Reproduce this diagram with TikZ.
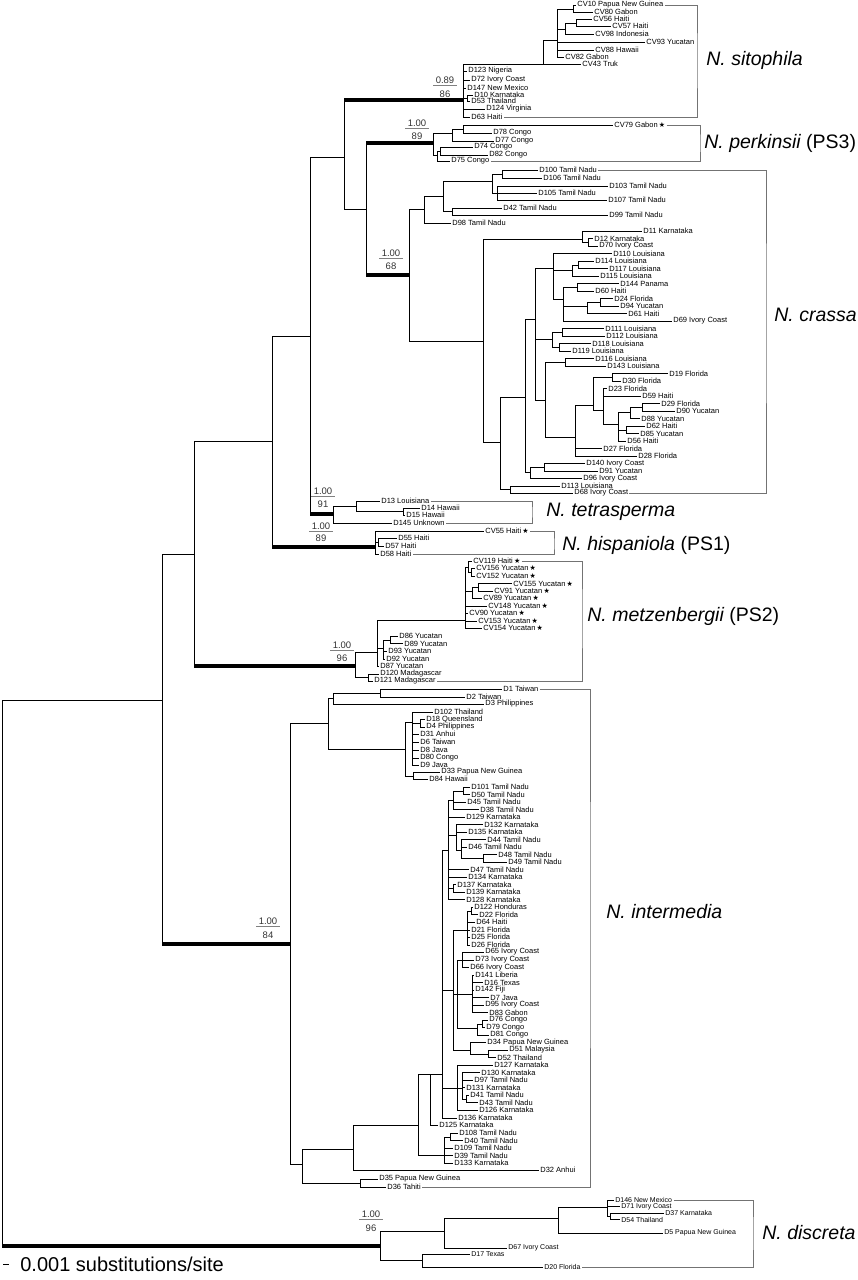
\documentclass[tikz,border=0pt]{standalone}
\usepackage{fontspec}
\setmainfont{Liberation Sans}
\newfontfamily\starfont{DejaVu Sans}
\usetikzlibrary{positioning}
\newcommand{\cvstar}{\,{\starfont\fontsize{7}{7}\selectfont ★}}
\tikzset{
  leaf/.style={anchor=west,inner xsep=1pt,inner ysep=0pt,font=\fontsize{7.5}{8}\selectfont},
  dleaf/.style={leaf,font=\fontsize{7}{8}\selectfont},
  clade/.style={draw=black!55,line width=0.6pt},
  taxon/.style={anchor=west,inner sep=0pt,font=\fontsize{19.5}{22}\selectfont},
  supp/.style={inner sep=0pt,font=\fontsize{9.5}{11}\selectfont,text=black!80},
  sbar/.style={draw=black!50,line width=0.5pt},
  bold/.style={line width=3.2pt}
}
\begin{document}
\begin{tikzpicture}[x=1pt,y=-1pt,line width=0.7pt]
\useasboundingbox (0,0) rectangle (858,1280);

% backbone
\coordinate (root) at (2,1246);
\coordinate (n1) at (162,700);
\coordinate (n2) at (194,554);
\coordinate (n3) at (272,441);
\coordinate (n4) at (310,336);
\coordinate (n5) at (344,157);
\coordinate (n6) at (366,209);
\coordinate (sit0) at (463,100);
\coordinate (per0) at (433,143);
\coordinate (cra0) at (409,275);
\coordinate (tet0) at (333,514);
\coordinate (his0) at (375,547);
\coordinate (met0) at (355,666);
\coordinate (int0) at (290,944);
\coordinate (dis0) at (380,1246);
\draw (root) |- (n1) (root) |- (dis0);
\draw (n1) |- (n2) (n1) |- (int0);
\draw (n2) |- (n3) (n2) |- (met0);
\draw (n3) |- (n4) (n3) |- (his0);
\draw (n4) |- (n5) (n4) |- (tet0);
\draw (n5) |- (sit0) (n5) |- (n6);
\draw (n6) |- (per0) (n6) |- (cra0);
\draw[bold] (n5 |- sit0) -- (sit0);
\draw[bold] (n6 |- per0) -- (per0);
\draw[bold] (n6 |- cra0) -- (cra0);
\draw[bold] (n4 |- tet0) -- (tet0);
\draw[bold] (n3 |- his0) -- (his0);
\draw[bold] (n2 |- met0) -- (met0);
\draw[bold] (n1 |- int0) -- (int0);
\draw[bold] (root) -- (dis0);

% support values
\node[supp] (sitPP) at (445,80) {0.89};
\node[supp] (sitBS) at (445,94) {86};
\draw[sbar] ([shift={(-2pt,-2pt)}]sitPP.south west) -- ([shift={(2pt,-2pt)}]sitPP.south east);
\node[supp] (perPP) at (417,123) {1.00};
\node[supp] (perBS) at (417,136) {89};
\draw[sbar] ([shift={(-2pt,-2pt)}]perPP.south west) -- ([shift={(2pt,-2pt)}]perPP.south east);
\node[supp] (craPP) at (391,253) {1.00};
\node[supp] (craBS) at (391,266) {68};
\draw[sbar] ([shift={(-2pt,-2pt)}]craPP.south west) -- ([shift={(2pt,-2pt)}]craPP.south east);
\node[supp] (tetPP) at (323,491) {1.00};
\node[supp] (tetBS) at (323,504) {91};
\draw[sbar] ([shift={(-2pt,-2pt)}]tetPP.south west) -- ([shift={(2pt,-2pt)}]tetPP.south east);
\node[supp] (hisPP) at (321,526) {1.00};
\node[supp] (hisBS) at (321,538) {89};
\draw[sbar] ([shift={(-2pt,-2pt)}]hisPP.south west) -- ([shift={(2pt,-2pt)}]hisPP.south east);
\node[supp] (metPP) at (342,645) {1.00};
\node[supp] (metBS) at (342,658) {96};
\draw[sbar] ([shift={(-2pt,-2pt)}]metPP.south west) -- ([shift={(2pt,-2pt)}]metPP.south east);
\node[supp] (intPP) at (268,921) {1.00};
\node[supp] (intBS) at (268,935) {84};
\draw[sbar] ([shift={(-2pt,-2pt)}]intPP.south west) -- ([shift={(2pt,-2pt)}]intPP.south east);
\node[supp] (disPP) at (371,1214) {1.00};
\node[supp] (disBS) at (371,1228) {96};
\draw[sbar] ([shift={(-2pt,-2pt)}]disPP.south west) -- ([shift={(2pt,-2pt)}]disPP.south east);

% N. sitophila
\coordinate (sitA) at (543,64);
\coordinate (sitB) at (557,40);
\coordinate (sitC) at (573,9);
\coordinate (sitD) at (565,29);
\coordinate (sitE) at (576,23);
\coordinate (sitF) at (467,98);
\node[leaf] (CV10) at (576,5) {CV10 Papua New Guinea};
\node[leaf] (CV80) at (593,12) {CV80 Gabon};
\node[leaf] (CV56) at (592,19) {CV56 Haiti};
\node[leaf] (CV57) at (611,26) {CV57 Haiti};
\node[leaf] (CV98) at (594,34) {CV98 Indonesia};
\node[leaf] (CV93) at (645,42) {CV93 Yucatan};
\node[leaf] (CV88) at (594,50) {CV88 Hawaii};
\node[leaf] (CV82) at (564,57) {CV82 Gabon};
\node[leaf] (CV43) at (581,64) {CV43 Truk};
\node[leaf] (D123) at (467,71) {D123 Nigeria};
\node[leaf] (D72) at (470,80) {D72 Ivory Coast};
\node[leaf] (D147) at (466,88) {D147 New Mexico};
\node[leaf] (D10) at (473,95) {D10 Karnataka};
\node[leaf] (D53) at (470,101) {D53 Thailand};
\node[leaf] (D124) at (485,109) {D124 Virginia};
\node[leaf] (D63) at (470,117) {D63 Haiti};
\draw (sit0) |- (sitA) (sit0) |- (D123) (sit0) |- (D72) (sit0) |- (D147) (sit0) |- (sitF) (sit0) |- (D124) (sit0) |- (D63);
\draw (sitA) |- (sitB) (sitA) |- (CV43);
\draw (sitB) |- (sitC) (sitB) |- (sitD) (sitB) |- (CV93) (sitB) |- (CV88) (sitB) |- (CV82);
\draw (sitC) |- (CV10) (sitC) |- (CV80);
\draw (sitD) |- (sitE) (sitD) |- (CV98);
\draw (sitE) |- (CV56) (sitE) |- (CV57);
\draw (sitF) |- (D10) (sitF) |- (D53);
\coordinate (sitBr) at (697,60);
\draw[clade] (CV10) -| (sitBr) |- (D63);
\node[taxon,right=9pt of sitBr] (sitN) {\itshape N. sitophila};

% N. perkinsii
\coordinate (perA) at (452,133);
\coordinate (perA2) at (463,129);
\coordinate (perB) at (437,155);
\coordinate (perB2) at (440,151);
\node[leaf] (CV79) at (613,125) {CV79 Gabon\cvstar};
\node[leaf] (D78) at (492,133) {D78 Congo};
\node[leaf] (D77) at (494,141) {D77 Congo};
\node[leaf] (D74) at (473,147) {D74 Congo};
\node[leaf] (D82) at (488,155) {D82 Congo};
\node[leaf] (D75) at (450,161) {D75 Congo};
\draw (per0) |- (perA) (per0) |- (perB);
\draw (perA) |- (perA2) (perA) |- (D77);
\draw (perA2) |- (CV79) (perA2) |- (D78);
\draw (perB) |- (perB2) (perB) |- (D75);
\draw (perB2) |- (D74) (perB2) |- (D82);
\coordinate (perBr) at (700,143);
\draw[clade] (CV79) -| (perBr) |- (D75);
\node[taxon,right=4pt of perBr] (perN) {{\itshape N. perkinsii} (PS3)};

% N. crassa
\coordinate (craT) at (424,209);
\coordinate (craT1) at (443,196);
\coordinate (craT2) at (492,181);
\coordinate (craT3) at (502,174);
\coordinate (craT4) at (497,193);
\coordinate (craT5) at (452,211);
\coordinate (craK) at (483,341);
\coordinate (craK2) at (582,239);
\coordinate (craK3) at (588,242);
\coordinate (craV) at (500,442);
\coordinate (craW) at (525,397);
\coordinate (craX) at (510,489);
\coordinate (craW1) at (535,319);
\coordinate (craY) at (530,472);
\coordinate (craZ) at (544,467);
\coordinate (craM) at (553,268);
\coordinate (craLa) at (572,270);
\coordinate (craLb) at (578,265);
\coordinate (craQ) at (563,299);
\coordinate (craPm) at (577,287);
\coordinate (craFl) at (587,306);
\coordinate (craFl2) at (600,302);
\coordinate (craU) at (552,339);
\coordinate (craU2) at (562,332);
\coordinate (craU3) at (559,347);
\coordinate (craS) at (545,400);
\coordinate (craS1) at (565,362);
\coordinate (craS2) at (575,437);
\coordinate (craS3) at (593,405);
\coordinate (craS4) at (612,377);
\coordinate (craS5) at (603,410);
\coordinate (craS6) at (618,424);
\coordinate (craS7) at (630,412);
\coordinate (craS8) at (626,430);
\coordinate (craS9) at (642,407);
\node[leaf] (D100) at (538,170) {D100 Tamil Nadu};
\node[leaf] (D106) at (542,178) {D106 Tamil Nadu};
\node[leaf] (D103) at (608,186) {D103 Tamil Nadu};
\node[leaf] (D105) at (537,193) {D105 Tamil Nadu};
\node[leaf] (D107) at (607,200) {D107 Tamil Nadu};
\node[leaf] (D42) at (502,208) {D42 Tamil Nadu};
\node[leaf] (D99) at (608,215) {D99 Tamil Nadu};
\node[leaf] (D98) at (451,223) {D98 Tamil Nadu};
\node[leaf] (D11) at (642,231) {D11 Karnataka};
\node[leaf] (D12) at (593,238.5) {D12 Karnataka};
\node[leaf] (D70) at (598,246) {D70 Ivory Coast};
\node[leaf] (D110) at (612,253.5) {D110 Louisiana};
\node[leaf] (D114) at (594,261) {D114 Louisiana};
\node[leaf] (D117) at (608,268.5) {D117 Louisiana};
\node[leaf] (D115) at (599,276) {D115 Louisiana};
\node[leaf] (D144) at (619,283.5) {D144 Panama};
\node[leaf] (D60) at (594,291) {D60 Haiti};
\node[leaf] (D24) at (613,298.5) {D24 Florida};
\node[leaf] (D94) at (619,306) {D94 Yucatan};
\node[leaf] (D61) at (627,313.5) {D61 Haiti};
\node[leaf] (D69) at (672,321) {D69 Ivory Coast};
\node[leaf] (D111) at (604,328.5) {D111 Louisiana};
\node[leaf] (D112) at (605,336) {D112 Louisiana};
\node[leaf] (D118) at (591,343.5) {D118 Louisiana};
\node[leaf] (D119) at (571,351) {D119 Louisiana};
\node[leaf] (D116) at (594,358.5) {D116 Louisiana};
\node[leaf] (D143) at (606,366) {D143 Louisiana};
\node[leaf] (D19) at (668,373.5) {D19 Florida};
\node[leaf] (D30) at (621,381) {D30 Florida};
\node[leaf] (D23) at (607,388.5) {D23 Florida};
\node[leaf] (D59) at (641,396) {D59 Haiti};
\node[leaf] (D29) at (660,403.5) {D29 Florida};
\node[leaf] (D90) at (675,411) {D90 Yucatan};
\node[leaf] (D88) at (640,418.5) {D88 Yucatan};
\node[leaf] (D62) at (645,426) {D62 Haiti};
\node[leaf] (D85) at (639,433.5) {D85 Yucatan};
\node[leaf] (D56) at (626,441) {D56 Haiti};
\node[leaf] (D27) at (602,448.5) {D27 Florida};
\node[leaf] (D28) at (637,456) {D28 Florida};
\node[leaf] (D140) at (585,463.5) {D140 Ivory Coast};
\node[leaf] (D91) at (598,471) {D91 Yucatan};
\node[leaf] (D96) at (582,478.5) {D96 Ivory Coast};
\node[leaf] (D113) at (560,486) {D113 Louisiana};
\node[leaf] (D68) at (573,493) {D68 Ivory Coast};
\draw (cra0) |- (craT) (cra0) |- (craK);
\draw (craT) |- (craT1) (craT) |- (D98);
\draw (craT1) |- (craT2) (craT1) |- (craT5);
\draw (craT2) |- (craT3) (craT2) |- (craT4);
\draw (craT3) |- (D100) (craT3) |- (D106);
\draw (craT4) |- (D103) (craT4) |- (D105) (craT4) |- (D107);
\draw (craT5) |- (D42) (craT5) |- (D99);
\draw (craK) |- (craK2) (craK) |- (craV);
\draw (craK2) |- (D11) (craK2) |- (craK3);
\draw (craK3) |- (D12) (craK3) |- (D70);
\draw (craV) |- (craW) (craV) |- (craX);
\draw (craW) |- (craW1) (craW) |- (craY);
\draw (craW1) |- (craM) (craW1) |- (craU) (craW1) |- (craS);
\draw (craM) |- (D110) (craM) |- (craLa) (craM) |- (craQ);
\draw (craLa) |- (craLb) (craLa) |- (D115);
\draw (craLb) |- (D114) (craLb) |- (D117);
\draw (craQ) |- (craPm) (craQ) |- (craFl) (craQ) |- (D69);
\draw (craPm) |- (D144) (craPm) |- (D60);
\draw (craFl) |- (craFl2) (craFl) |- (D61);
\draw (craFl2) |- (D24) (craFl2) |- (D94);
\draw (craU) |- (craU2) (craU) |- (craU3);
\draw (craU2) |- (D111) (craU2) |- (D112);
\draw (craU3) |- (D118) (craU3) |- (D119);
\draw (craS) |- (craS1) (craS) |- (craS2);
\draw (craS1) |- (D116) (craS1) |- (D143);
\draw (craS2) |- (craS3) (craS2) |- (D27) (craS2) |- (D28);
\draw (craS3) |- (craS4) (craS3) |- (craS5);
\draw (craS4) |- (D19) (craS4) |- (D30);
\draw (craS5) |- (D23) (craS5) |- (D59) (craS5) |- (craS6);
\draw (craS6) |- (craS7) (craS6) |- (craS8) (craS6) |- (D56);
\draw (craS7) |- (craS9) (craS7) |- (D88);
\draw (craS9) |- (D29) (craS9) |- (D90);
\draw (craS8) |- (D62) (craS8) |- (D85);
\draw (craY) |- (craZ) (craY) |- (D96);
\draw (craZ) |- (D140) (craZ) |- (D91);
\draw (craX) |- (D113) (craX) |- (D68);
\coordinate (craBr) at (766,315);
\draw[clade] (D100) -| (craBr) |- (D68);
\node[taxon,right=8pt of craBr] (craN) {\itshape N. crassa};

% N. tetrasperma
\coordinate (tetA) at (356,506);
\coordinate (tetB) at (403,511);
\node[leaf] (D13) at (380,501) {D13 Louisiana};
\node[leaf] (D14) at (420,508) {D14 Hawaii};
\node[leaf] (D15) at (405,515) {D15 Hawaii};
\node[leaf] (D145) at (392,523) {D145 Unknown};
\draw (tet0) |- (tetA) (tet0) |- (D145);
\draw (tetA) |- (D13) (tetA) |- (tetB);
\draw (tetB) |- (D14) (tetB) |- (D15);
\coordinate (tetBr) at (532,512);
\draw[clade] (D13) -| (tetBr) |- (D145);
\node[taxon,right=14pt of tetBr] (tetN) {\itshape N. tetrasperma};

% N. hispaniola
\coordinate (hisA) at (378,542);
\node[leaf] (CV55) at (484,531) {CV55 Haiti\cvstar};
\node[leaf] (D55) at (397,538) {D55 Haiti};
\node[leaf] (D57) at (384,546) {D57 Haiti};
\node[leaf] (D58) at (379,554) {D58 Haiti};
\draw (his0) |- (CV55) (his0) |- (hisA) (his0) |- (D58);
\draw (hisA) |- (D55) (hisA) |- (D57);
\coordinate (hisBr) at (554,545);
\draw[clade] (CV55) -| (hisBr) |- (D58);
\node[taxon,right=8pt of hisBr] (hisN) {{\itshape N. hispaniola} (PS1)};

% N. metzenbergii
\coordinate (metA) at (377,652);
\coordinate (metB) at (383,648);
\coordinate (metC) at (390,640);
\coordinate (metG) at (368,677);
\coordinate (metCV) at (465,620);
\coordinate (metH) at (468,567);
\coordinate (metH2) at (471,572);
\coordinate (metI) at (472,591);
\coordinate (metI2) at (478,587);
\node[leaf] (CV119) at (472,561) {CV119 Haiti\cvstar};
\node[leaf] (CV156) at (475,568) {CV156 Yucatan\cvstar};
\node[leaf] (CV152) at (475,576) {CV152 Yucatan\cvstar};
\node[leaf] (CV155) at (512,583.5) {CV155 Yucatan\cvstar};
\node[leaf] (CV91) at (493,591) {CV91 Yucatan\cvstar};
\node[leaf] (CV89) at (482,598) {CV89 Yucatan\cvstar};
\node[leaf] (CV148) at (487,606) {CV148 Yucatan\cvstar};
\node[leaf] (CV90) at (468,613) {CV90 Yucatan\cvstar};
\node[leaf] (CV153) at (477,621) {CV153 Yucatan\cvstar};
\node[leaf] (CV154) at (482,628) {CV154 Yucatan\cvstar};
\node[leaf] (D86) at (398,636) {D86 Yucatan};
\node[leaf] (D89) at (403,643.5) {D89 Yucatan};
\node[leaf] (D93) at (387,651) {D93 Yucatan};
\node[leaf] (D92) at (385,659) {D92 Yucatan};
\node[leaf] (D87) at (379,666) {D87 Yucatan};
\node[leaf] (D120) at (379,674) {D120 Madagascar};
\node[leaf] (D121) at (373,681) {D121 Madagascar};
\draw (met0) |- (metA) (met0) |- (metG);
\draw (metA) |- (metCV) (metA) |- (metB) (metA) |- (D87);
\draw (metB) |- (metC) (metB) |- (D93) (metB) |- (D92);
\draw (metC) |- (D86) (metC) |- (D89);
\draw (metG) |- (D120) (metG) |- (D121);
\draw (metCV) |- (metH) (metCV) |- (metI) (metCV) |- (CV148) (metCV) |- (CV90) (metCV) |- (CV153) (metCV) |- (CV154);
\draw (metH) |- (CV119) (metH) |- (metH2);
\draw (metH2) |- (CV156) (metH2) |- (CV152);
\draw (metI) |- (metI2) (metI) |- (CV89);
\draw (metI2) |- (CV155) (metI2) |- (CV91);
\coordinate (metBr) at (582,616);
\draw[clade] (CV119) -| (metBr) |- (D121);
\node[taxon,right=5pt of metBr] (metN) {{\itshape N. metzenbergii} (PS2)};

% N. intermedia
\coordinate (intA) at (328,723);
\coordinate (intB) at (333,698);
\coordinate (intC) at (380,693);
\coordinate (intN) at (405,749);
\coordinate (intN2) at (412,722);
\coordinate (intN3) at (413,776);
\coordinate (intN4) at (420,723);
\coordinate (intJ) at (302,1164);
\coordinate (intJ1) at (353,1149);
\coordinate (intJ2) at (360,1183);
\coordinate (intJ3) at (418,1125);
\coordinate (intJ4) at (444,1155);
\coordinate (intJ5) at (450,1137);
\coordinate (intJ6) at (430,1074);
\coordinate (intJ7) at (442,1074);
\coordinate (intP) at (448,850);
\coordinate (intP0) at (463,791);
\coordinate (intP1) at (453,800);
\coordinate (intPa) at (456,835);
\coordinate (intPb) at (461,850);
\coordinate (intPc) at (483,858);
\coordinate (intPd) at (453,888);
\coordinate (intQ) at (453,990);
\coordinate (intQa) at (467,930);
\coordinate (intQa1) at (471,911);
\coordinate (intQb) at (457,994);
\coordinate (intQb1) at (462,960);
\coordinate (intQb2) at (472,994);
\coordinate (intQb3) at (477,1028);
\coordinate (intQb4) at (482,1024);
\coordinate (intQc) at (470,1050);
\coordinate (intQc1) at (488,1054);
\coordinate (intR) at (457,1088);
\coordinate (intR1) at (462,1088);
\coordinate (intR2) at (466,1099);
\node[leaf] (D1) at (502,689) {D1 Taiwan};
\node[leaf] (D2) at (465,697) {D2 Taiwan};
\node[leaf] (D3) at (484,704) {D3 Philippines};
\node[leaf] (D102) at (433,712) {D102 Thailand};
\node[leaf] (D18) at (425,719) {D18 Queensland};
\node[leaf] (D4) at (425,727) {D4 Philippines};
\node[leaf] (D31) at (419,734) {D31 Anhui};
\node[leaf] (D6) at (419,742) {D6 Taiwan};
\node[leaf] (D8) at (419,750) {D8 Java};
\node[leaf] (D80) at (419,758) {D80 Congo};
\node[leaf] (D9) at (419,765) {D9 Java};
\node[leaf] (D33) at (440,772) {D33 Papua New Guinea};
\node[leaf] (D84) at (428,779) {D84 Hawaii};
\node[leaf] (D101) at (470,787) {D101 Tamil Nadu};
\node[leaf] (D50) at (470,794.5) {D50 Tamil Nadu};
\node[leaf] (D45) at (466,802) {D45 Tamil Nadu};
\node[leaf] (D38) at (479,809.5) {D38 Tamil Nadu};
\node[leaf] (D129) at (465,817) {D129 Karnataka};
\node[leaf] (D132) at (483,824.5) {D132 Karnataka};
\node[leaf] (D135) at (467,832) {D135 Karnataka};
\node[leaf] (D44) at (486,839.5) {D44 Tamil Nadu};
\node[leaf] (D46) at (467,847) {D46 Tamil Nadu};
\node[leaf] (D48) at (497,854.5) {D48 Tamil Nadu};
\node[leaf] (D49) at (507,862) {D49 Tamil Nadu};
\node[leaf] (D47) at (469,869.5) {D47 Tamil Nadu};
\node[leaf] (D134) at (467,877) {D134 Karnataka};
\node[leaf] (D137) at (456,884.5) {D137 Karnataka};
\node[leaf] (D139) at (465,892) {D139 Karnataka};
\node[leaf] (D128) at (465,899.5) {D128 Karnataka};
\node[leaf] (D122) at (473,907) {D122 Honduras};
\node[leaf] (D22) at (478,914.5) {D22 Florida};
\node[leaf] (D64) at (475,922) {D64 Haiti};
\node[leaf] (D21) at (470,930) {D21 Florida};
\node[leaf] (D25) at (470,937) {D25 Florida};
\node[leaf] (D26) at (470,945) {D26 Florida};
\node[leaf] (D65) at (484,952) {D65 Ivory Coast};
\node[leaf] (D73) at (474,960) {D73 Ivory Coast};
\node[leaf] (D66) at (469,967.5) {D66 Ivory Coast};
\node[leaf] (D141) at (474,975) {D141 Liberia};
\node[leaf] (D16) at (483,982.5) {D16 Texas};
\node[leaf] (D142) at (474,990) {D142 Fiji};
\node[leaf] (D7) at (489,997.5) {D7 Java};
\node[leaf] (D95) at (484,1005) {D95 Ivory Coast};
\node[leaf] (D83) at (488,1012.5) {D83 Gabon};
\node[leaf] (D76) at (488,1020) {D76 Congo};
\node[leaf] (D79) at (485,1027.5) {D79 Congo};
\node[leaf] (D81) at (489,1035) {D81 Congo};
\node[leaf] (D34) at (486,1042.5) {D34 Papua New Guinea};
\node[leaf] (D51) at (508,1050) {D51 Malaysia};
\node[leaf] (D52) at (496,1057.5) {D52 Thailand};
\node[leaf] (D127) at (493,1065) {D127 Karnataka};
\node[leaf] (D130) at (480,1072.5) {D130 Karnataka};
\node[leaf] (D97) at (473,1080) {D97 Tamil Nadu};
\node[leaf] (D131) at (465,1087.5) {D131 Karnataka};
\node[leaf] (D41) at (469,1095) {D41 Tamil Nadu};
\node[leaf] (D43) at (478,1102.5) {D43 Tamil Nadu};
\node[leaf] (D126) at (478,1110) {D126 Karnataka};
\node[leaf] (D136) at (457,1118) {D136 Karnataka};
\node[leaf] (D125) at (438,1125) {D125 Karnataka};
\node[leaf] (D108) at (458,1133) {D108 Tamil Nadu};
\node[leaf] (D40) at (463,1140.5) {D40 Tamil Nadu};
\node[leaf] (D109) at (453,1148) {D109 Tamil Nadu};
\node[leaf] (D39) at (453,1155.5) {D39 Tamil Nadu};
\node[leaf] (D133) at (453,1163) {D133 Karnataka};
\node[leaf] (D32) at (539,1170) {D32 Anhui};
\node[leaf] (D35) at (378,1179) {D35 Papua New Guinea};
\node[leaf] (D36) at (386,1187) {D36 Tahiti};
\draw (int0) |- (intA) (int0) |- (intJ);
\draw (intA) |- (intB) (intA) |- (intN);
\draw (intB) |- (intC) (intB) |- (D3);
\draw (intC) |- (D1) (intC) |- (D2);
\draw (intN) |- (intN2) (intN) |- (intN3);
\draw (intN2) |- (D102) (intN2) |- (intN4) (intN2) |- (D31) (intN2) |- (D6) (intN2) |- (D8) (intN2) |- (D80) (intN2) |- (D9);
\draw (intN4) |- (D18) (intN4) |- (D4);
\draw (intN3) |- (D33) (intN3) |- (D84);
\draw (intJ) |- (intJ1) (intJ) |- (intJ2);
\draw (intJ2) |- (D35) (intJ2) |- (D36);
\draw (intJ1) |- (intJ3) (intJ1) |- (D32);
\draw (intJ3) |- (intJ6) (intJ3) |- (intJ4);
\draw (intJ4) |- (intJ5) (intJ4) |- (D109) (intJ4) |- (D39) (intJ4) |- (D133);
\draw (intJ5) |- (D108) (intJ5) |- (D40);
\draw (intJ6) |- (intJ7) (intJ6) |- (D125);
\draw (intJ7) |- (intP) (intJ7) |- (intQ) (intJ7) |- (intR) (intJ7) |- (D136);
\draw (intP) |- (intP1) (intP) |- (D129) (intP) |- (intPa) (intP) |- (D47) (intP) |- (D134) (intP) |- (intPd) (intP) |- (D128);
\draw (intP1) |- (intP0) (intP1) |- (D45) (intP1) |- (D38);
\draw (intP0) |- (D101) (intP0) |- (D50);
\draw (intPa) |- (D132) (intPa) |- (D135) (intPa) |- (intPb);
\draw (intPb) |- (D44) (intPb) |- (D46) (intPb) |- (intPc);
\draw (intPc) |- (D48) (intPc) |- (D49);
\draw (intPd) |- (D137) (intPd) |- (D139);
\draw (intQ) |- (intQa) (intQ) |- (intQb) (intQ) |- (intQc);
\draw (intQa) |- (intQa1) (intQa) |- (D64) (intQa) |- (D21) (intQa) |- (D25) (intQa) |- (D26);
\draw (intQa1) |- (D122) (intQa1) |- (D22);
\draw (intQb) |- (intQb1) (intQb) |- (intQb2) (intQb) |- (intQb3);
\draw (intQb1) |- (D65) (intQb1) |- (D73) (intQb1) |- (D66);
\draw (intQb2) |- (D141) (intQb2) |- (D16) (intQb2) |- (D142) (intQb2) |- (D7) (intQb2) |- (D95) (intQb2) |- (D83);
\draw (intQb3) |- (intQb4) (intQb3) |- (D81);
\draw (intQb4) |- (D76) (intQb4) |- (D79);
\draw (intQc) |- (D34) (intQc) |- (intQc1);
\draw (intQc1) |- (D51) (intQc1) |- (D52);
\draw (intR) |- (D127) (intR) |- (intR1) (intR) |- (D126);
\draw (intR1) |- (D130) (intR1) |- (D97) (intR1) |- (D131) (intR1) |- (intR2);
\draw (intR2) |- (D41) (intR2) |- (D43);
\coordinate (intBr) at (590,912);
\draw[clade] (D1) -| (intBr) |- (D36);
\node[taxon,right=16pt of intBr] (intNm) {\itshape N. intermedia};

% N. discreta
\coordinate (disA) at (444,1231);
\coordinate (disB) at (422,1260);
\coordinate (disC) at (558,1218);
\coordinate (disD) at (607,1207);
\coordinate (disF) at (610,1216);
\node[dleaf] (D146) at (614,1200) {D146 New Mexico};
\node[dleaf] (D71) at (620,1206.5) {D71 Ivory Coast};
\node[dleaf] (D37) at (664,1213) {D37 Karnataka};
\node[dleaf] (D54) at (620,1219.5) {D54 Thailand};
\node[dleaf] (D5) at (663,1233) {D5 Papua New Guinea};
\node[dleaf] (D67) at (507,1248) {D67 Ivory Coast};
\node[dleaf] (D17) at (470,1254) {D17 Texas};
\node[dleaf] (D20) at (543,1267) {D20 Florida};
\draw (dis0) |- (disA) (dis0) |- (disB);
\draw (disA) |- (disC) (disA) |- (D67);
\draw (disC) |- (disD) (disC) |- (D5);
\draw (disD) |- (D146) (disD) |- (D71) (disD) |- (disF);
\draw (disF) |- (D37) (disF) |- (D54);
\draw (disB) |- (D17) (disB) |- (D20);
\coordinate (disBr) at (753,1233);
\draw[clade] (D146) -| (disBr) |- (D20);
\node[taxon,right=9pt of disBr] (disN) {\itshape N. discreta};

% scale bar
\coordinate (scL) at (3,1264);
\coordinate (scR) at (9,1264);
\draw (scL) -- (scR);
\node[anchor=west,inner sep=0pt,font=\fontsize{20}{22}\selectfont] (scT) at (20,1264) {0.001 substitutions/site};
\end{tikzpicture}
\end{document}
